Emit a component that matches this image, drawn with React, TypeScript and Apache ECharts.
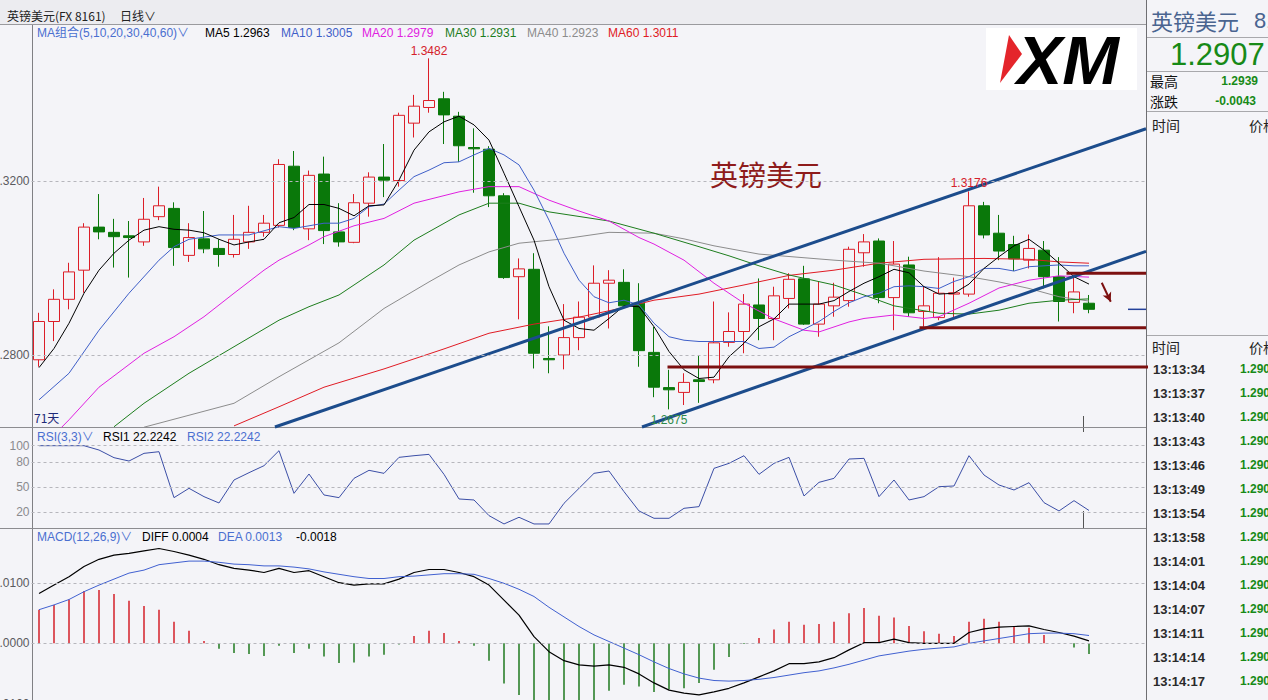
import React, { useEffect, useRef } from "react";
import * as echarts from "echarts";

// ---------------- data ----------------
const dayLabels: string[] = Array.from({ length: 74 }, (_, i) => `D${i + 1}`);

const open = [1.2789,1.2877,1.2928,1.2995,1.3094,1.3082,1.3074,1.3060,1.3118,1.3137,
1.3029,1.3067,1.3045,1.3031,1.3060,1.3082,1.3098,1.3234,1.3090,1.3216,
1.3083,1.3059,1.3149,1.3209,1.3201,1.3333,1.3369,1.3389,1.3349,1.3277,
1.3273,1.3166,1.2980,1.2997,1.2792,1.2800,1.2840,1.2887,1.2965,1.2967,
1.2919,1.2806,1.2725,1.2714,1.2743,1.2743,1.2829,1.2854,1.2915,1.2884,
1.2930,1.2975,1.2871,1.2913,1.2925,1.3035,1.3062,1.2932,1.3007,1.2900,
1.2886,1.2940,1.2940,1.3143,1.3080,1.3054,1.3018,1.3041,1.2980,1.2921,1.2919];
const close = [1.2877,1.2928,1.2991,1.3094,1.3083,1.3072,1.3070,1.3112,1.3143,1.3047,
1.3070,1.3044,1.3031,1.3066,1.3082,1.3103,1.3238,1.3093,1.3213,1.3086,
1.3060,1.3150,1.3209,1.3202,1.3351,1.3372,1.3385,1.3352,1.3281,1.3274,
1.3166,1.2978,1.2998,1.2804,1.2789,1.2840,1.2887,1.2965,1.2972,1.2913,
1.2810,1.2726,1.2720,1.2737,1.2739,1.2828,1.2854,1.2917,1.2884,1.2936,
1.2974,1.2871,1.2917,1.2933,1.3043,1.3060,1.2932,1.3009,1.2897,1.2913,
1.2942,1.2943,1.3143,1.3076,1.3039,1.3021,1.3045,1.2980,1.2923,1.2945,1.2905];
const low = [1.2773,1.2832,1.2905,1.2943,1.3066,1.3001,1.2978,1.3051,1.3110,1.3005,
1.3014,1.3034,1.3003,1.3024,1.3044,1.3072,1.3093,1.3087,1.3064,1.3055,
1.3049,1.3057,1.3118,1.3163,1.3187,1.3300,1.3357,1.3285,1.3244,1.3173,
1.3140,1.2975,1.2882,1.2769,1.2758,1.2767,1.2811,1.2882,1.2861,1.2911,
1.2773,1.2703,1.2675,1.2685,1.2690,1.2735,1.2819,1.2804,1.2834,1.2834,
1.2907,1.2869,1.2842,1.2888,1.2911,1.3003,1.2919,1.2857,1.2888,1.2865,
1.2880,1.2884,1.2934,1.3068,1.3018,1.2993,1.2999,1.2953,1.2877,1.2896,1.2896];
const high = [1.2897,1.2951,1.3012,1.3103,1.3170,1.3113,1.3108,1.3161,1.3187,1.3151,
1.3103,1.3131,1.3066,1.3122,1.3143,1.3122,1.3250,1.3269,1.3224,1.3256,
1.3149,1.3170,1.3220,1.3285,1.3357,1.3398,1.3482,1.3405,1.3359,1.3321,
1.3280,1.3172,1.3022,1.3034,1.2866,1.2917,1.2923,1.3006,1.2995,1.2997,
1.2965,1.2865,1.2766,1.2758,1.2800,1.2923,1.2898,1.2940,1.2976,1.2957,
1.2988,1.3005,1.2969,1.2966,1.3049,1.3078,1.3068,1.3062,1.3026,1.2957,
1.3025,1.2978,1.3176,1.3152,1.3122,1.3074,1.3077,1.3062,1.3025,1.2982,1.2938];

const ma5 = [1.2771,1.2815,1.2873,1.2942,1.2995,1.3034,1.3064,1.3087,1.3095,1.3089,
1.3087,1.3081,1.3066,1.3053,1.3060,1.3066,1.3104,1.3116,1.3146,1.3146,
1.3137,1.3120,1.3143,1.3145,1.3202,1.3271,1.3313,1.3336,1.3349,1.3329,
1.3294,1.3218,1.3141,1.3064,1.2957,1.2880,1.2861,1.2857,1.2884,1.2913,
1.2911,1.2865,1.2808,1.2766,1.2746,1.2749,1.2796,1.2827,1.2865,1.2883,
1.2917,1.2917,1.2917,1.2925,1.2946,1.2965,1.2980,1.2997,1.2989,1.2957,
1.2940,1.2942,1.2963,1.2999,1.3026,1.3051,1.3066,1.3041,1.3011,1.2980,1.2963];

// [day index, value] read points for the smoother averages
const ma10Pts: [number, number][] = [[0,1.2697],[2,1.2758],[4,1.2857],[6,1.2942],[8,1.3018],[9,1.3049],[10,1.3066],[12,1.3076],[14,1.3076],[16,1.3095],[17,1.3091],[19,1.3103],[20,1.3103],[21,1.3114],[22,1.3141],[23,1.3147],[24,1.3179],[25,1.3210],[26,1.3225],[27,1.3242],[28,1.3244],[29,1.3260],[30,1.3275],[31,1.3260],[32,1.3237],[33,1.3179],[34,1.3110],[35,1.3034],[36,1.2972],[37,1.2934],[38,1.2920],[39,1.2926],[40,1.2915],[41,1.2873],[42,1.2842],[43,1.2834],[44,1.2831],[47,1.2831],[48,1.2815],[49,1.2818],[50,1.2842],[51,1.2859],[52,1.2877],[53,1.2900],[54,1.2920],[55,1.2934],[56,1.2942],[57,1.2957],[58,1.2959],[59,1.2957],[60,1.2953],[61,1.2969],[62,1.2980],[63,1.2999],[64,1.2999],[65,1.2993],[66,1.3003],[67,1.3005],[68,1.3007],[69,1.3005],[70,1.3005]];
const ma20Pts: [number, number][] = [[1,1.2616],[2,1.2651],[4,1.2726],[7,1.2804],[9,1.2842],[11,1.2888],[13,1.2942],[15,1.2995],[16,1.3018],[18,1.3053],[19,1.3072],[21,1.3097],[23,1.3114],[25,1.3149],[28,1.3175],[30,1.3187],[32,1.3187],[34,1.3156],[36,1.3131],[38,1.3108],[40,1.3070],[41,1.3055],[43,1.3018],[45,1.2965],[47,1.2919],[49,1.2883],[51,1.2857],[52,1.2853],[54,1.2876],[55,1.2884],[57,1.2892],[59,1.2884],[60,1.2888],[62,1.2919],[64,1.2954],[66,1.2972],[68,1.2982],[70,1.2979]];
const ma30Pts: [number, number][] = [[5,1.2635],[7,1.2689],[10,1.2758],[13,1.2819],[16,1.2880],[18,1.2911],[20,1.2938],[23,1.3007],[25,1.3064],[28,1.3122],[30,1.3149],[32,1.3149],[34,1.3129],[38,1.3108],[41,1.3080],[44,1.3049],[46,1.3028],[48,1.3005],[50,1.2984],[53,1.2961],[55,1.2938],[57,1.2913],[60,1.2896],[62,1.2894],[64,1.2903],[66,1.2919],[68,1.2926],[70,1.2929]];
const ma40Pts: [number, number][] = [[7,1.2634],[13,1.2689],[16,1.2750],[18,1.2789],[20,1.2828],[23,1.2907],[26,1.2968],[28,1.3007],[30,1.3037],[32,1.3057],[35,1.3067],[38,1.3082],[41,1.3080],[43,1.3067],[45,1.3051],[48,1.3032],[53,1.3018],[56,1.3011],[59,1.2993],[62,1.2980],[64,1.2968],[66,1.2953],[68,1.2934],[70,1.2924]];
const ma60Pts: [number, number][] = [[13,1.2637],[16,1.2681],[19,1.2726],[23,1.2768],[27,1.2814],[30,1.2850],[33,1.2871],[36,1.2887],[39,1.2909],[41,1.2926],[44,1.2940],[47,1.2961],[50,1.2983],[53,1.2995],[56,1.3011],[59,1.3020],[63,1.3022],[66,1.3020],[68,1.3014],[70,1.3011]];

// drawn analysis lines: [day index, price]
const channelUpper: [number, number][] = [[15.73, 1.26345], [73.8, 1.33202]];
const channelLower: [number, number][] = [[40.2, 1.26345], [73.8, 1.30384]];
const support1: [number, number][] = [[41.9, 1.27724], [74.1, 1.27724]];
const support2: [number, number][] = [[58.7, 1.28628], [73.8, 1.28628]];
const resistance: [number, number][] = [[68.5, 1.29878], [73.8, 1.29878]];
const arrowLine: [number, number][] = [[70.85, 1.29662], [71.45, 1.29225]];
const lastPriceMark: [number, number][] = [[72.6, 1.2905], [73.8, 1.2905]];

const rsi = [100,100,100,100,94.8,85.6,81.6,90.8,92.8,37.6,
48.8,38.8,31.2,58.8,67.6,76,94,42.8,66,40.8,
37.6,60.8,70.4,66.8,86,88,89.6,65.6,36,34.8,
16,6,14,6,6,30.8,48.8,66.8,69.6,44.8,
21.6,12.8,12.8,24.8,26.8,72.8,78.8,88,65.6,78.8,
86,39.6,56,60.8,84,84.8,38.8,58.8,34.8,38.8,
50.8,51.6,88,64.8,52.8,46.8,55.6,31.6,21.6,34,22.2];

const macdHist = [0.0056,0.0064,0.0073,0.0087,0.0089,0.0082,0.0071,0.0062,0.0056,0.0036,
0.0021,0.0004,-0.0009,-0.0016,-0.0018,-0.0021,-0.0004,-0.0016,-0.0009,-0.0022,
-0.0033,-0.0032,-0.0022,-0.0019,-0.0002,0.0012,0.0021,0.0017,0.0004,-0.0004,
-0.0029,-0.0067,-0.0086,-0.0133,-0.0148,-0.0147,-0.0128,-0.0103,-0.0079,-0.0069,
-0.0072,-0.0081,-0.0077,-0.0075,-0.0066,-0.0044,-0.0023,-0.0001,0.0009,0.0023,
0.0036,0.0031,0.0032,0.0036,0.0050,0.0059,0.0046,0.0043,0.0029,0.0020,
0.0016,0.0012,0.0036,0.0041,0.0036,0.0029,0.0026,0.0014,0.0000,-0.0007,-0.0018];
const diff = [0.0083,0.0097,0.0111,0.0128,0.0140,0.0147,0.0150,0.0154,0.0158,0.0153,
0.0147,0.0140,0.0131,0.0125,0.0122,0.0118,0.0125,0.0118,0.0121,0.0111,
0.0101,0.0097,0.0099,0.0099,0.0107,0.0118,0.0123,0.0123,0.0118,0.0111,
0.0097,0.0072,0.0047,0.0011,-0.0014,-0.0029,-0.0036,-0.0038,-0.0036,-0.0040,
-0.0051,-0.0066,-0.0078,-0.0083,-0.0086,-0.0081,-0.0075,-0.0066,-0.0056,-0.0046,
-0.0034,-0.0034,-0.0031,-0.0024,-0.0011,0.0001,0.0001,0.0007,0.0001,0.0000,
0.0000,0.0000,0.0018,0.0024,0.0027,0.0028,0.0029,0.0023,0.0018,0.0012,0.0004];
const dea = [0.0056,0.0064,0.0073,0.0086,0.0097,0.0107,0.0117,0.0122,0.0131,0.0134,
0.0137,0.0137,0.0135,0.0132,0.0131,0.0129,0.0129,0.0127,0.0124,0.0119,
0.0115,0.0111,0.0108,0.0108,0.0111,0.0112,0.0114,0.0116,0.0116,0.0115,
0.0108,0.0100,0.0090,0.0078,0.0060,0.0044,0.0028,0.0014,0.0003,-0.0008,
-0.0019,-0.0031,-0.0042,-0.0051,-0.0058,-0.0062,-0.0063,-0.0062,-0.0060,-0.0057,
-0.0053,-0.0049,-0.0046,-0.0041,-0.0035,-0.0028,-0.0021,-0.0017,-0.0013,-0.0010,
-0.0008,-0.0006,0.0000,0.0004,0.0008,0.0012,0.0016,0.0017,0.0017,0.0016,0.0013];

const priceTicks = [1.28, 1.32];
const rsiTicks = [20, 50, 80, 100];
const macdTicks = [0, 0.01];
const macdLowTick = -0.01;

const timeList = ["13:13:34","13:13:37","13:13:40","13:13:43","13:13:46","13:13:49","13:13:54","13:13:58","13:14:01","13:14:04","13:14:07","13:14:11","13:14:14","13:14:17"];
const tickPrice = "1.2907";

// ---------------- styling ----------------
const LATIN = '"Liberation Sans", Arial, "Noto Sans CJK SC", sans-serif';
const CJK = '"Noto Sans CJK SC", "Liberation Sans", sans-serif';
const BG = "#f4f4f8";
const UP = "#dc1e28";
const DOWN = "#0a780a";
const LEGEND_BLUE = "#4a6fd0";
const C_MA5 = "#000000";
const C_MA10 = "#3f5fc8";
const C_MA20 = "#e020e0";
const C_MA30 = "#1d7d1d";
const C_MA40 = "#8c8c8c";
const C_MA60 = "#e01b24";
const TREND = "#1c4c8c";
const LEVEL = "#7c1010";
const DASH = "#b6b6bc";

const PRICE_MIN = 1.263448;
const PRICE_MAX = 1.355862;
const MACD_MIN = -0.00945;
const MACD_MAX = 0.01905;

const txt = (x: number, y: number, text: string, fill: string, size = 12, family = LATIN, weight = "normal", align = "left") => ({
  type: "text",
  x, y, silent: true, z: 5,
  style: {
    text, fill,
    font: `${weight} ${size}px ${family}`,
    textAlign: align, align,
    textVerticalAlign: "middle", verticalAlign: "middle",
  },
});
const hline = (x1: number, x2: number, y: number, color: string, w = 1) => ({
  type: "line", silent: true, z: 1,
  shape: { x1, y1: y, x2, y2: y },
  style: { stroke: color, lineWidth: w },
});
const vline = (x: number, y1: number, y2: number, color: string, w = 1) => ({
  type: "line", silent: true, z: 1,
  shape: { x1: x, y1, x2: x, y2 },
  style: { stroke: color, lineWidth: w },
});

const indexed = (arr: number[]) => arr.map((v, i) => [i, v]);

function buildOption() {
  const candles = open.map((o, i) => [o, close[i], low[i], high[i]]);
  const xVal = (gridIndex: number) => ({
    type: "value", gridIndex, min: -0.5, max: 73.8, show: false,
  });
  const maSeries = (name: string, data: number[][], color: string) => ({
    name, type: "line", xAxisIndex: 1, yAxisIndex: 1, data,
    symbol: "none", silent: true, z: 3,
    lineStyle: { color, width: 1 },
  });
  const levelSeries = (name: string, data: number[][], color: string, width: number, extra: any = {}) => ({
    name, type: "line", xAxisIndex: 1, yAxisIndex: 1, data,
    symbol: "none", silent: true, z: 4, clip: false,
    lineStyle: { color, width }, ...extra,
  });
  const dashMark = (ticks: number[]) => ({
    silent: true, symbol: ["none", "none"],
    label: { show: false },
    lineStyle: { color: DASH, type: [3, 3], width: 1 },
    data: ticks.map((v) => ({ yAxis: v })),
  });
  const markLabel = (idx: number, value: number, color: string, pos: string, dist: number) => ({
    coord: [dayLabels[idx], value],
    value: value.toFixed(4),
    label: { show: true, position: pos, distance: dist, color, formatter: value.toFixed(4), fontSize: 12, fontFamily: LATIN },
  });

  const graphics: any[] = [
    // header strip
    { type: "rect", silent: true, z: 0, shape: { x: 0, y: 0, width: 1146, height: 24 }, style: { fill: "#ececf0" } },
    hline(0, 1146, 24.5, "#9a9a9e"),
    vline(32.5, 25, 700, "#808084"),
    hline(0, 1146, 427.5, "#8c8c90"),
    hline(0, 1146, 528.5, "#8c8c90"),
    vline(1146.5, 0, 700, "#6e6e72"),
    // cursor marks
    vline(1083.5, 416, 427, "#555"),
    vline(1083.5, 428, 432, "#555"),
    vline(1083.5, 511, 528, "#555"),
    // header texts
    txt(7, 15, "英镑美元(FX 8161)", "#222", 12, CJK),
    txt(120, 15, "日线∨", "#222", 12, CJK),
    // MA legend
    txt(37, 33, "MA组合(5,10,20,30,40,60)∨", LEGEND_BLUE, 12, LATIN),
    txt(205, 33, "MA5 1.2963", C_MA5, 12),
    txt(281, 33, "MA10 1.3005", C_MA10, 12),
    txt(362, 33, "MA20 1.2979", C_MA20, 12),
    txt(445, 33, "MA30 1.2931", C_MA30, 12),
    txt(527, 33, "MA40 1.2923", C_MA40, 12),
    txt(608, 33, "MA60 1.3011", C_MA60, 12),
    txt(34, 417, "71天", "#1e2a78", 12, CJK),
    txt(766, 174, "英镑美元", "#8e1b1b", 28, CJK, "normal", "center"),
    // RSI legend
    txt(37, 437, "RSI(3,3)∨", LEGEND_BLUE, 12),
    txt(103, 437, "RSI1 22.2242", "#000", 12),
    txt(187, 437, "RSI2 22.2242", LEGEND_BLUE, 12),
    // MACD legend
    txt(37, 537, "MACD(12,26,9)∨", LEGEND_BLUE, 12),
    txt(142, 537, "DIFF 0.0004", "#000", 12),
    txt(218, 537, "DEA 0.0013", LEGEND_BLUE, 12),
    txt(296, 537, "-0.0018", "#000", 12),
    // lowest MACD scale label, just below the visible area
    txt(29.5, 704, macdLowTick.toFixed(4), "#5a5a5e", 12, LATIN, "normal", "right"),
    // XM logo
    { type: "rect", silent: true, z: 1, shape: { x: 986, y: 28, width: 151, height: 62 }, style: { fill: "#ffffff" } },
    { type: "polygon", silent: true, z: 2, shape: { points: [[1009, 35], [1022, 54], [1000, 83]] }, style: { fill: "#e4252b" } },
    txt(1068, 60, "XM", "#000", 68, LATIN, "bold italic", "center"),
    // right panel
    txt(1151, 20, "英镑美元", "#4a6490", 22, CJK),
    txt(1254, 20, "8161", "#4a6490", 22, LATIN),
    hline(1147, 1268, 37.5, "#a8a8ac"),
    txt(1170, 54, "1.2907", "#178a17", 31, LATIN),
    hline(1147, 1268, 71.5, "#a8a8ac"),
    txt(1150, 81, "最高", "#111", 14, CJK),
    txt(1258, 81, "1.2939", "#178a17", 12, LATIN, "bold", "right"),
    txt(1150, 101, "涨跌", "#111", 14, CJK),
    txt(1256, 101, "-0.0043", "#178a17", 12, LATIN, "bold", "right"),
    hline(1147, 1268, 111.5, "#a8a8ac"),
    txt(1152, 125, "时间", "#222", 14, CJK),
    txt(1249, 125, "价格", "#222", 14, CJK),
    hline(1147, 1268, 335.5, "#a8a8ac"),
    txt(1152, 347, "时间", "#222", 14, CJK),
    txt(1249, 347, "价格", "#222", 14, CJK),
  ];
  timeList.forEach((t, i) => {
    graphics.push(txt(1153, 369 + 24 * i, t, "#2a2a2a", 13, LATIN, "bold"));
    graphics.push(txt(1240, 369 + 24 * i, tickPrice, "#178a17", 12, LATIN, "bold"));
  });

  const axisLabelBase = { color: "#5a5a5e", fontSize: 12, fontFamily: LATIN, margin: 2, align: "right" };
  const gridBase = { containLabel: false, outerBoundsMode: "none" };

  return {
    animation: false,
    backgroundColor: BG,
    grid: [
      { ...gridBase, left: 31.5, top: 25, width: 1110, height: 402 },
      { ...gridBase, left: 31.5, top: 25, width: 1114.5, height: 402 },
      { ...gridBase, left: 31.5, top: 428, width: 1114.5, height: 100.95 },
      { ...gridBase, left: 31.5, top: 529, width: 1114.5, height: 171 },
    ],
    xAxis: [
      { type: "category", gridIndex: 0, data: dayLabels, show: false, boundaryGap: true },
      xVal(1),
      xVal(2),
      xVal(3),
    ],
    yAxis: [
      {
        type: "value", gridIndex: 0, min: PRICE_MIN, max: PRICE_MAX,
        axisLine: { show: false }, axisTick: { show: false }, splitLine: { show: false },
        axisLabel: { ...axisLabelBase, customValues: priceTicks, formatter: (v: number) => v.toFixed(4) },
      },
      { type: "value", gridIndex: 1, min: PRICE_MIN, max: PRICE_MAX, show: false, splitLine: { show: false } },
      {
        type: "value", gridIndex: 2, min: 0, max: 121.26,
        axisLine: { show: false }, axisTick: { show: false }, splitLine: { show: false },
        axisLabel: { ...axisLabelBase, color: "#8a8a8e", customValues: rsiTicks, formatter: (v: number) => String(Math.round(v)) },
      },
      {
        type: "value", gridIndex: 3, min: MACD_MIN, max: MACD_MAX,
        axisLine: { show: false }, axisTick: { show: false }, splitLine: { show: false },
        axisLabel: { ...axisLabelBase, customValues: macdTicks, formatter: (v: number) => v.toFixed(4) },
      },
    ],
    graphic: { elements: graphics },
    series: [
      {
        name: "grid", type: "line", xAxisIndex: 1, yAxisIndex: 1, data: [], z: 1, silent: true,
        markLine: dashMark(priceTicks),
      },
      {
        name: "GBPUSD", type: "candlestick", xAxisIndex: 0, yAxisIndex: 0, data: candles,
        barWidth: 11, z: 2, silent: true,
        itemStyle: { color: "rgba(0,0,0,0)", color0: DOWN, borderColor: UP, borderColor0: DOWN, borderWidth: 1 },
        markPoint: {
          silent: true, symbol: "circle", symbolSize: 1,
          itemStyle: { color: "rgba(0,0,0,0)" },
          data: [
            markLabel(26, high[26], "#d4202a", "top", 1),
            markLabel(62, high[62], "#d4202a", "top", 2),
            markLabel(42, low[42], "#2f8a4a", "bottom", 4),
          ],
        },
      },
      maSeries("MA60", ma60Pts, C_MA60),
      maSeries("MA40", ma40Pts, C_MA40),
      maSeries("MA30", ma30Pts, C_MA30),
      maSeries("MA20", ma20Pts, C_MA20),
      maSeries("MA10", ma10Pts, C_MA10),
      maSeries("MA5", indexed(ma5), C_MA5),
      levelSeries("channelUpper", channelUpper, TREND, 3),
      levelSeries("channelLower", channelLower, TREND, 3),
      levelSeries("support1", support1, LEVEL, 3),
      levelSeries("support2", support2, LEVEL, 3),
      levelSeries("resistance", resistance, LEVEL, 3),
      levelSeries("last", lastPriceMark, "#23409a", 1.5, {
        markLine: {
          silent: true, symbol: ["none", "arrow"], symbolSize: [7, 9],
          label: { show: false },
          lineStyle: { color: LEVEL, width: 2, type: "solid" },
          data: [[{ coord: arrowLine[0] }, { coord: arrowLine[1] }]],
        },
      }),
      {
        name: "RSI", type: "line", xAxisIndex: 2, yAxisIndex: 2, data: indexed(rsi),
        symbol: "none", silent: true, z: 3,
        lineStyle: { color: "#3b4ea6", width: 1 },
        markLine: dashMark(rsiTicks),
      },
      {
        name: "MACD", type: "bar", xAxisIndex: 3, yAxisIndex: 3, data: indexed(macdHist),
        barWidth: 1.5, silent: true, z: 2,
        itemStyle: { color: (p: any) => (p.value[1] >= 0 ? "#d4202a" : "#1f7a1f") },
        markLine: dashMark(macdTicks),
      },
      {
        name: "DIFF", type: "line", xAxisIndex: 3, yAxisIndex: 3, data: indexed(diff),
        symbol: "none", silent: true, z: 3, lineStyle: { color: "#000", width: 1.2 },
      },
      {
        name: "DEA", type: "line", xAxisIndex: 3, yAxisIndex: 3, data: indexed(dea),
        symbol: "none", silent: true, z: 3, lineStyle: { color: "#4060d0", width: 1 },
      },
    ],
  };
}

export default function App() {
  const ref = useRef<HTMLDivElement>(null);
  useEffect(() => {
    if (!ref.current) return;
    const chart = echarts.init(ref.current, null, { renderer: "svg" });
    chart.setOption(buildOption() as any);
    return () => chart.dispose();
  }, []);
  return (
    <div
      ref={ref}
      style={{ position: "fixed", left: 0, top: 0, width: 1268, height: 700, overflow: "hidden" }}
    />
  );
}
